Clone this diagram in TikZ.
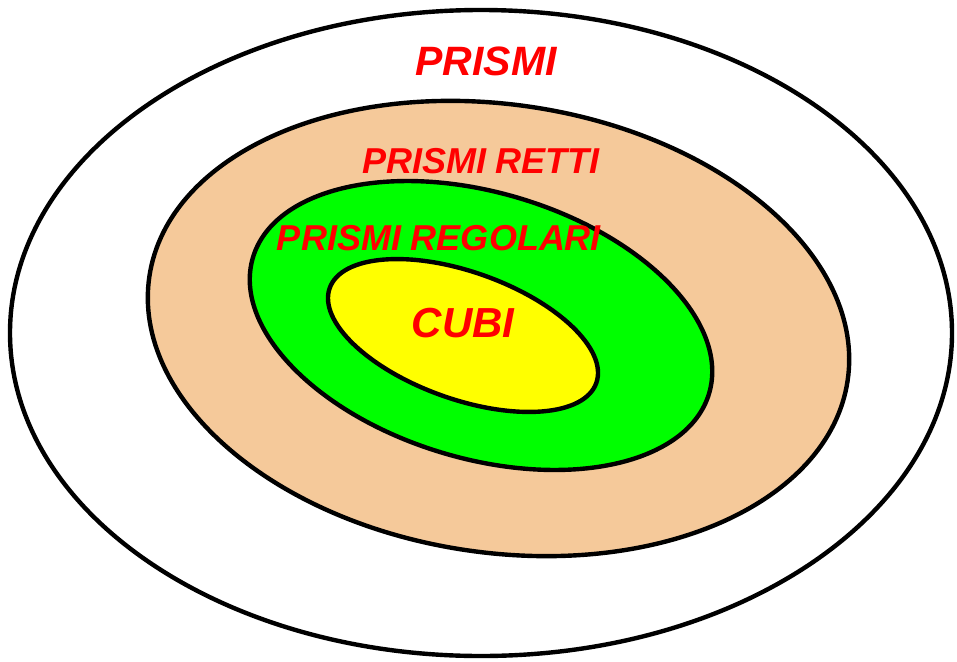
\documentclass[tikz,border=0pt]{standalone}
\usepackage{fontspec}
\setmainfont{Liberation Sans}
\definecolor{rettifill}{RGB}{245,201,154}
\definecolor{regfill}{RGB}{0,255,0}
\definecolor{cubifill}{RGB}{255,255,0}
\tikzset{
  setedge/.style={draw=black,line width=4.4pt},        % boundary of a set
  setlabel/.style={text=red,font=\bfseries\itshape,inner sep=0pt},
}

\begin{document}
\begin{tikzpicture}[x=1pt,y=1pt]
  \useasboundingbox (0,0) rectangle (957,-661);
  % nested sets, outer to inner
  \draw[setedge,fill=white] (481,-333) ellipse [x radius=471,y radius=323];
  \draw[setedge,fill=rettifill] (498.5,-328.5) ellipse [x radius=353,y radius=224,rotate=-8.5];
  \draw[setedge,fill=regfill] (481,-325.5) ellipse [x radius=238,y radius=133,rotate=-16.6];
  \draw[setedge,fill=cubifill] (463,-335.5) ellipse [x radius=141.5,y radius=63.6,rotate=-19.6];
  % labels
  \node[setlabel,font=\fontsize{41}{41}\selectfont\bfseries\itshape] (prismi) at (486,-61) {PRISMI};
  \node[setlabel,font=\fontsize{36}{36}\selectfont\bfseries\itshape] (retti) at (481,-161) {PRISMI RETTI};
  \node[setlabel,font=\fontsize{36}{36}\selectfont\bfseries\itshape] (regolari) at (439,-238) {PRISMI REGOLARI};
  \node[setlabel,font=\fontsize{42}{42}\selectfont\bfseries\itshape] (cubi) at (463,-323) {CUBI};
\end{tikzpicture}
\end{document}
